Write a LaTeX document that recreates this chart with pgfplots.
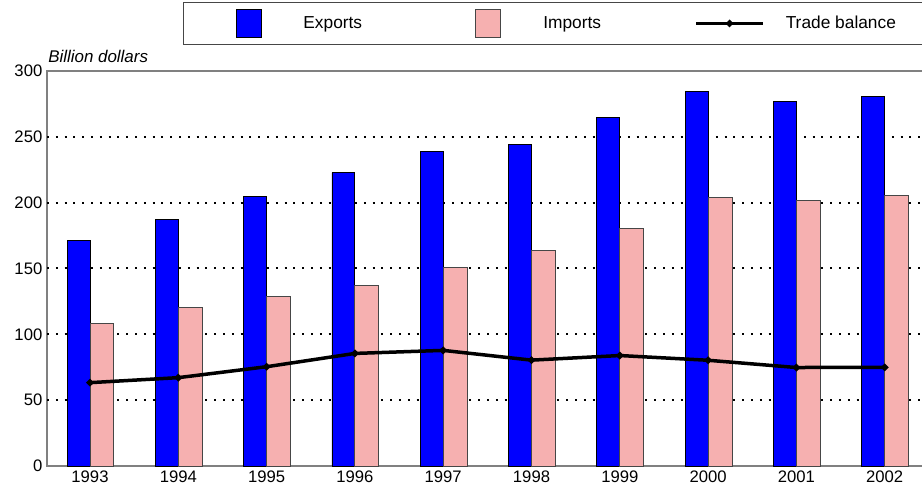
\documentclass[border=0pt]{standalone}
\usepackage{fontspec}
\setmainfont{Liberation Sans}
\usepackage{pgfplots}
\pgfplotsset{compat=1.18}
\newlength{\px}\setlength{\px}{0.75bp}
\definecolor{expblue}{RGB}{0,0,255}
\definecolor{imppink}{RGB}{246,176,176}
\definecolor{axgray}{RGB}{128,128,128}
\definecolor{boxgray}{RGB}{70,70,70}

\begin{document}
\begin{tikzpicture}
\begin{axis}[
  name=ax,
  scale only axis,
  width=878\px, height=395\px,
  xmin=-0.487, xmax=9.456,
  ymin=0, ymax=300,
  xtick={0,...,9},
  xticklabels={1993,1994,1995,1996,1997,1998,1999,2000,2001,2002},
  ytick={0,50,...,300},
  major tick length=0pt,
  extra y ticks={50,100,150,200,250},
  extra y tick labels={},
  extra y tick style={grid=major},
  grid style={black, line width=2\px, dash pattern=on 2\px off 6.8\px},
  axis line style={draw=axgray, line width=1.3\px},
  tick label style={font=\fontsize{12.5bp}{14bp}\selectfont},
  /pgf/number format/assume math mode=true,
  every axis y label/.style={at={(axis description cs:0,1)}, anchor=base west,
    yshift=8\px, xshift=1\px, inner sep=0pt, font=\fontsize{12.7bp}{14bp}\selectfont},
  ylabel={\textit{Billion dollars}},
  legend columns=3,
  legend cell align=left,
  legend style={at={(axis description cs:0,1)}, anchor=north west,
    xshift=136\px, yshift=69\px, draw=boxgray, line width=1\px,
    inner xsep=31\px, inner ysep=6.5\px,
    font=\fontsize{13bp}{15bp}\selectfont,
    nodes={inner sep=0pt},
    /tikz/every odd column/.append style={column sep=21\px},
    /tikz/every even column/.append style={column sep=0pt}},
]
\addplot[ybar, bar width=0.26, bar shift=-0.13, fill=expblue, draw=black, line width=0.9\px,
  legend image code/.code={\path (0,0) (67\px,0);
    \draw[fill=expblue, draw=black, line width=0.9\px] (21\px,-14\px) rectangle (46\px,14\px);}]
  coordinates {(0,171.6) (1,187.5) (2,204.5) (3,222.9) (4,238.8) (5,244.0) (6,264.6) (7,284.6) (8,276.6) (9,280.7)};
\addlegendentry{\makebox[151\px][l]{Exports}}
\addplot[ybar, bar width=0.27, bar shift=0.135, fill=imppink, draw=boxgray, line width=0.9\px,
  legend image code/.code={\path (0,0) (67\px,0);
    \draw[fill=imppink, draw=boxgray, line width=0.9\px] (21\px,-14\px) rectangle (46\px,14\px);}]
  coordinates {(0,108.3) (1,120.4) (2,129.1) (3,137.4) (4,151.0) (5,163.6) (6,180.7) (7,204.3) (8,201.8) (9,205.8)};
\addlegendentry{\makebox[151\px][l]{Imports}}
\addplot[black, line width=3.5\px, mark=*, mark size=1.6\px,
  legend image code/.code={\draw[black, line width=3.5\px] (0,0) -- (67\px,0);
    \fill[black] (33.5\px,0) circle (1.5\px);}]
  coordinates {(0,63.3) (1,67.1) (2,75.4) (3,85.5) (4,87.8) (5,80.4) (6,83.9) (7,80.3) (8,74.8) (9,74.9)};
\addlegendentry{\makebox[170\px][l]{Trade balance}}
\end{axis}
\pgfresetboundingbox
\useasboundingbox ([shift={(-47\px,-25\px)}]ax.south west) rectangle ++(922\px,491\px);
\end{tikzpicture}
\end{document}
